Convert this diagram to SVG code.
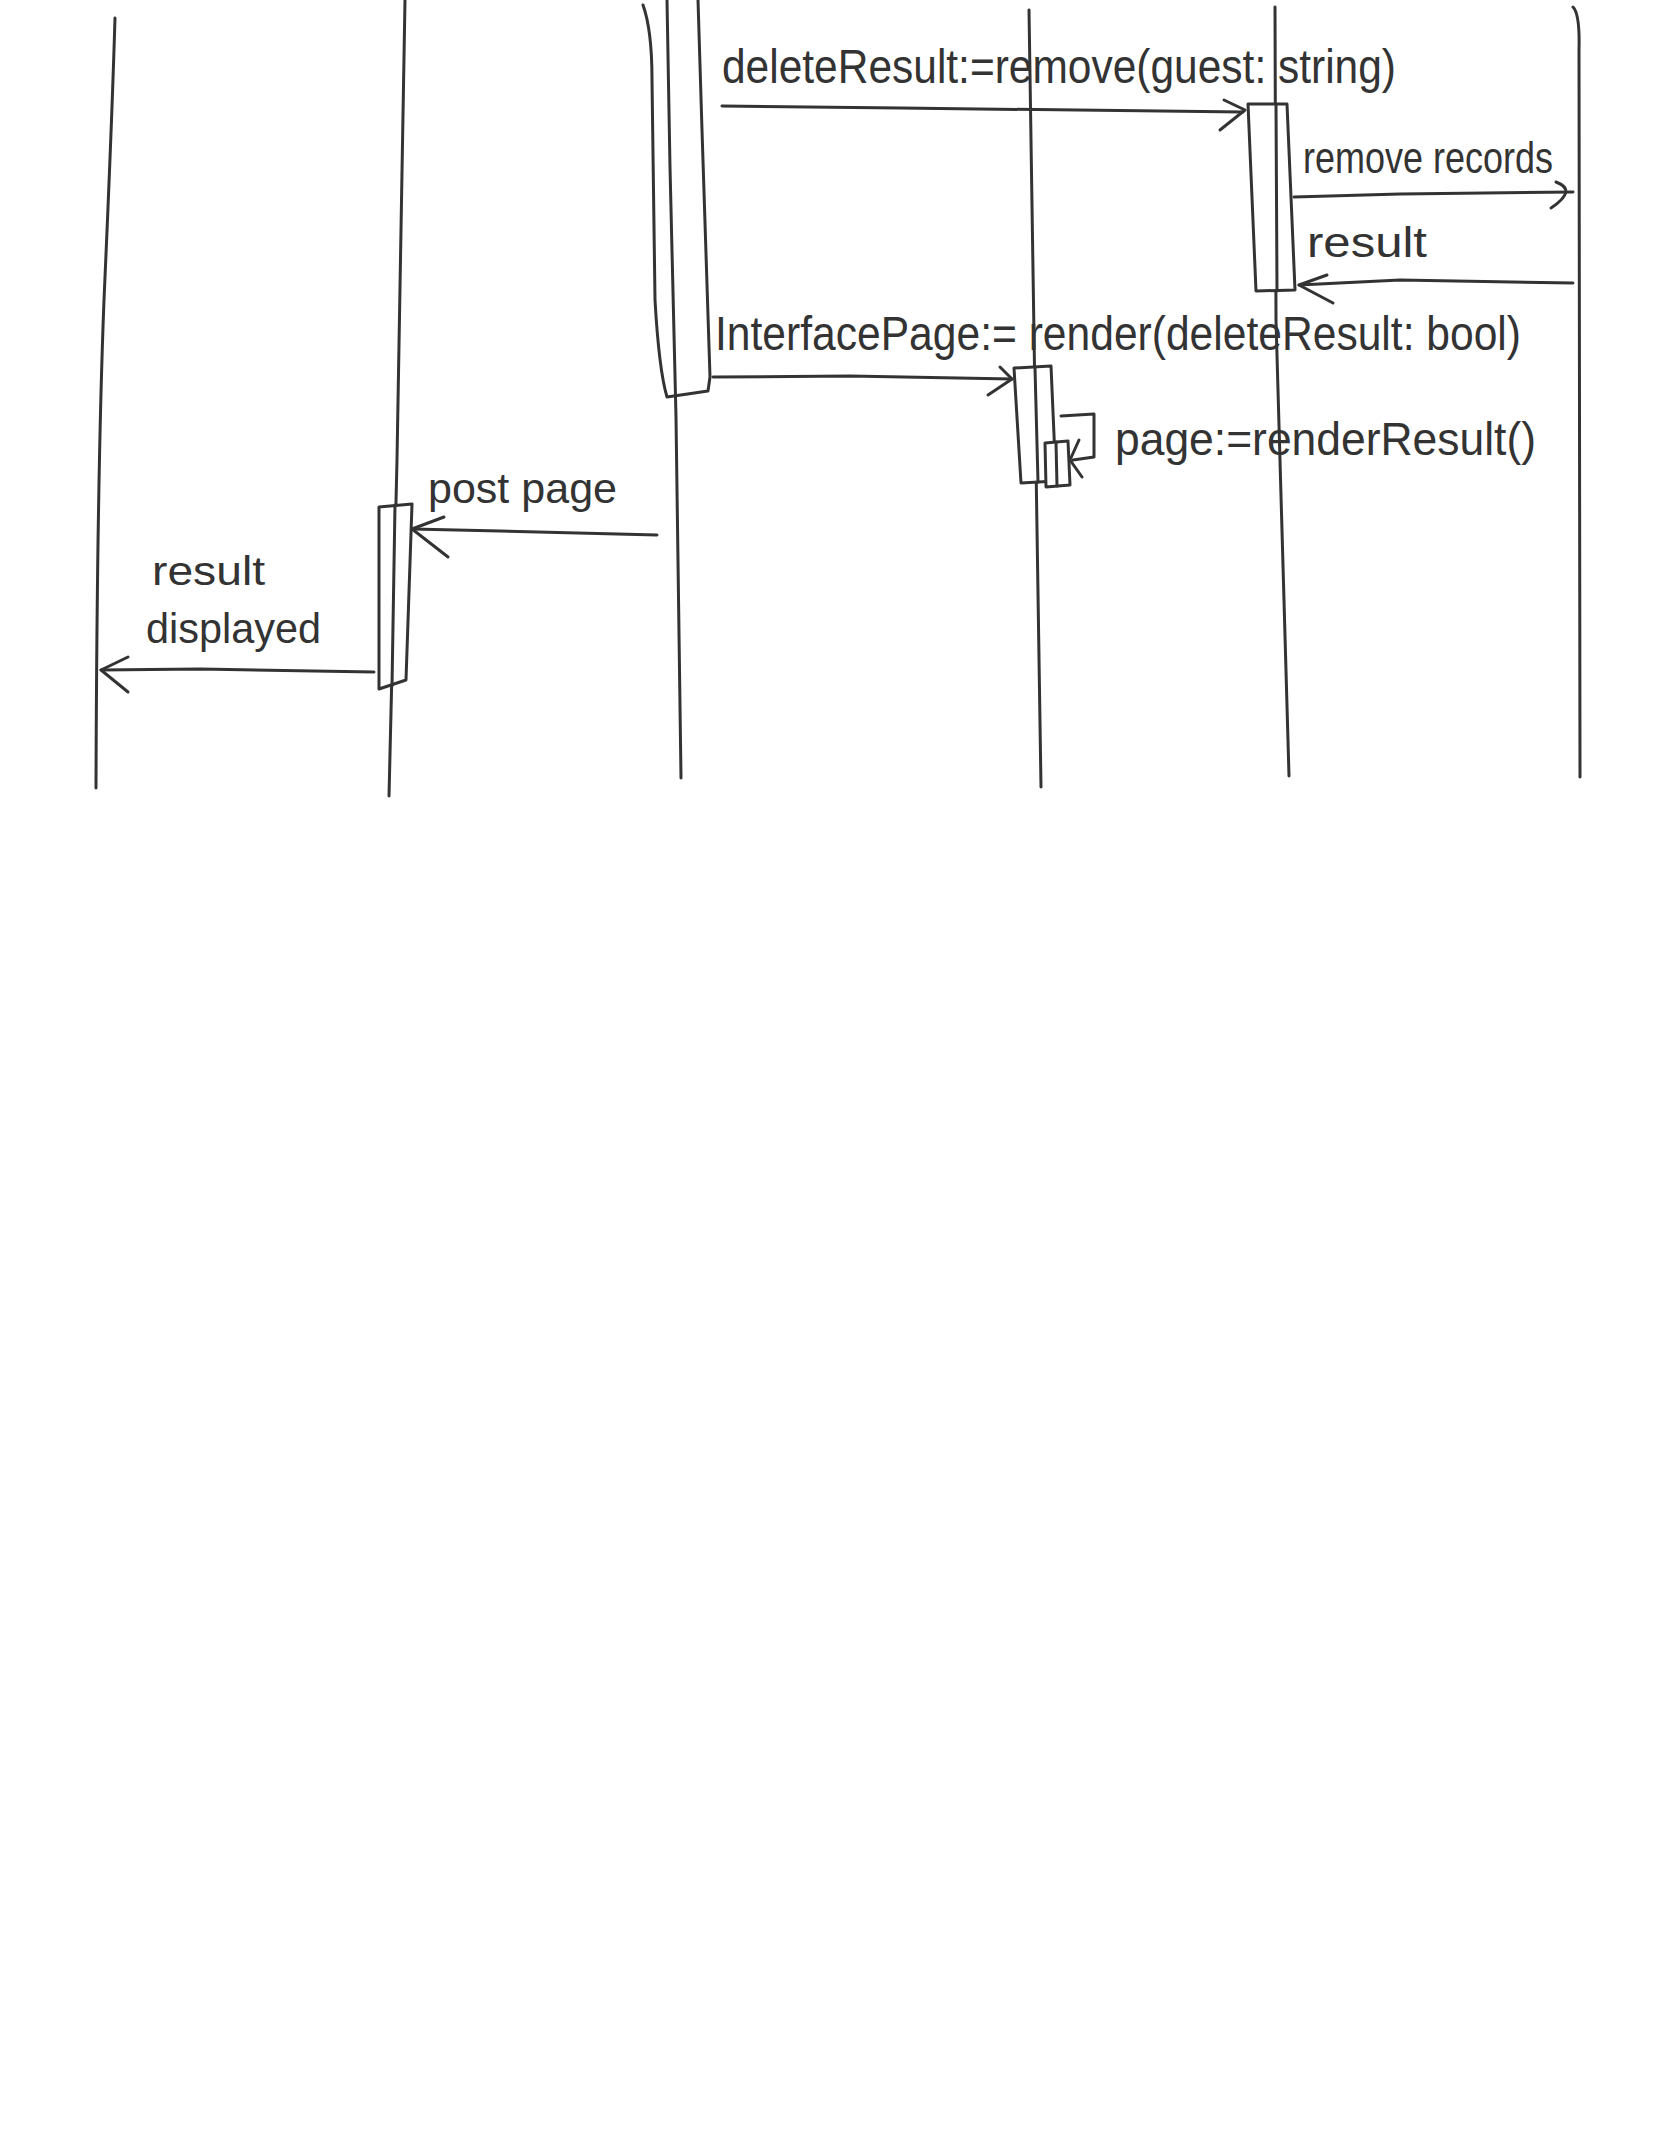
<svg xmlns="http://www.w3.org/2000/svg" width="1668" height="2154" viewBox="0 0 1668 2154">
<style>
.ln{fill:none;stroke:#333;stroke-width:3;stroke-linecap:round;stroke-linejoin:round}
.box{fill:#fff;stroke:#333;stroke-width:3;stroke-linejoin:round}
.lb{font-family:"Liberation Sans",Arial,sans-serif;fill:#333}
</style>
<rect width="1668" height="2154" fill="#fff"/>
<g id="lifeline1"><path class="ln" d="M115,18 Q112,120 104,300 Q97,480 96,788"/></g>
<g id="lifeline2"><path class="ln" d="M405,0 L397,460 L389,796"/>
<path id="act2" class="box" d="M379,507 L412,504 L406,680 L379,689 Z"/><path class="ln" d="M395,505 L392,686"/></g>
<g id="lifeline3">
<path class="ln" d="M643,5 Q652,30 652,80 L655,300 Q659,370 667,397 L708,391 L710,377 L702,130 L698,0"/>
<path class="ln" d="M667,0 L670,167 L676,417 L681,778"/></g>
<g id="lifeline4"><path class="ln" d="M1029,10 L1035,400 L1041,787"/>
<path id="act4" class="box" d="M1014,368 L1051,366 L1056,481 L1021,483 Z"/>
<path class="ln" d="M1035,368 L1038,482"/>
<path id="act4b" class="box" d="M1045,443 L1068,441 L1070,485 L1046,487 Z"/>
<path class="ln" d="M1056,442 L1057,486"/></g>
<g id="lifeline5"><path class="ln" d="M1275,7 L1276,320 L1289,776"/>
<path id="act5" class="box" d="M1248,104 L1287,104 L1295,290 L1256,291 Z"/>
<path class="ln" d="M1276,104 L1277,291"/></g>
<g id="lifeline6"><path class="ln" d="M1573,7 Q1580,14 1579,50 L1580,777"/></g>
<g id="connectors">
<path class="ln" d="M722,106 L900,108 L1243,112"/><path class="ln" d="M1224,100 L1245,110 L1220,130"/>
<path class="ln" d="M1294,197 L1400,194 L1573,192"/><path class="ln" d="M1556,182 Q1578,190 1551,208"/>
<path class="ln" d="M1573,283 L1400,280 L1299,285"/><path class="ln" d="M1327,275 L1299,285 L1333,303"/>
<path class="ln" d="M713,377 L850,376 L1012,379"/><path class="ln" d="M1000,367 L1012,379 L988,395"/>
<path class="ln" d="M1061,416 L1094,414 L1094,457 L1073,460"/><path class="ln" d="M1079,440 L1070,460 L1082,477"/>
<path class="ln" d="M657,535 L500,531 L412,529"/><path class="ln" d="M444,517 L412,529 L448,557"/>
<path class="ln" d="M374,672 L200,669 L101,670"/><path class="ln" d="M128,657 L101,670 L128,692"/>
</g>
<g id="labels">
<text class="lb" x="722" y="83" font-size="48" textLength="674" lengthAdjust="spacingAndGlyphs">deleteResult:=remove(guest: string)</text>
<text class="lb" x="1303" y="173" font-size="44" textLength="250" lengthAdjust="spacingAndGlyphs">remove records</text>
<text class="lb" x="1307" y="257" font-size="42" textLength="120" lengthAdjust="spacingAndGlyphs">result</text>
<text class="lb" x="715" y="350" font-size="48" textLength="806" lengthAdjust="spacingAndGlyphs">InterfacePage:= render(deleteResult: bool)</text>
<text class="lb" x="1115" y="455" font-size="46" textLength="421" lengthAdjust="spacingAndGlyphs">page:=renderResult()</text>
<text class="lb" x="428" y="503" font-size="42" textLength="189" lengthAdjust="spacingAndGlyphs">post page</text>
<text class="lb" x="152" y="585" font-size="40" textLength="113" lengthAdjust="spacingAndGlyphs">result</text>
<text class="lb" x="146" y="643" font-size="42" textLength="175" lengthAdjust="spacingAndGlyphs">displayed</text>
</g>
</svg>
